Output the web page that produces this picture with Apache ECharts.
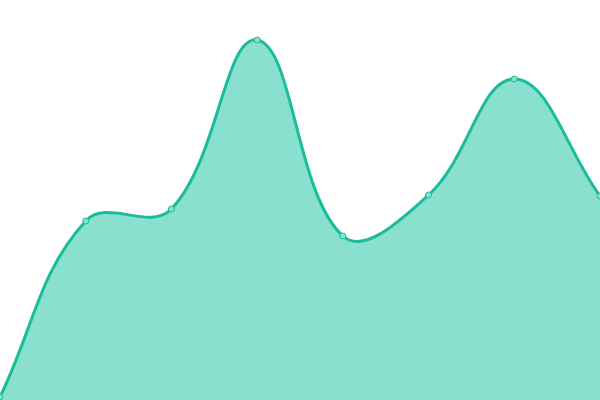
<!DOCTYPE html>
<html><head><meta charset="utf-8">
<script src="https://cdn.jsdelivr.net/npm/echarts@6/dist/echarts.min.js"></script>
<style>html,body{margin:0;padding:0;background:#fff}#c{width:600px;height:400px}</style>
</head><body><div id="c"></div>
<script>
const categories = ['A','B','C','D','E','F','G','H'];
const values = [3, 179, 191, 360, 164, 205, 321, 204];
const yMin = 0, yMax = 400;
const tension = 0.4;
const lineColor = '#1abc9c';
const fillColor = '#8ae0cf';

function controlPoints(pts, t, area) {
  const n = pts.length, out = [];
  const clampPt = p => [Math.max(area.x, Math.min(area.x + area.width, p[0])),
                        Math.max(area.y, Math.min(area.y + area.height, p[1]))];
  for (let i = 0; i < n; i++) {
    const prev = pts[Math.max(0, i - 1)], cur = pts[i], next = pts[Math.min(n - 1, i + 1)];
    const d01 = Math.hypot(cur[0] - prev[0], cur[1] - prev[1]);
    const d12 = Math.hypot(next[0] - cur[0], next[1] - cur[1]);
    let s01 = d01 / (d01 + d12), s12 = d12 / (d01 + d12);
    if (!isFinite(s01)) s01 = 0; if (!isFinite(s12)) s12 = 0;
    const fa = t * s01, fb = t * s12;
    out.push({
      prev: clampPt([cur[0] - fa * (next[0] - prev[0]), cur[1] - fa * (next[1] - prev[1])]),
      next: clampPt([cur[0] + fb * (next[0] - prev[0]), cur[1] + fb * (next[1] - prev[1])])
    });
  }
  return out;
}

const chart = echarts.init(document.getElementById('c'));
chart.setOption({
  animation: false,
  grid: {left: 0, right: 0, top: 0, bottom: 0},
  xAxis: {type: 'category', data: categories, boundaryGap: false, show: false},
  yAxis: {type: 'value', min: yMin, max: yMax, show: false},
  series: [{
    type: 'custom',
    data: categories.map((c, i) => [i, values[i]]),
    encode: {x: 0, y: 1},
    z: 1,
    renderItem: function (params, api) {
      if (params.dataIndex !== 0) return null;
      const pts = values.map((v, i) => api.coord([i, v]));
      const cs = params.coordSys;
      const cps = controlPoints(pts, tension, cs);
      let d = 'M' + pts[0][0] + ' ' + pts[0][1];
      for (let i = 0; i < pts.length - 1; i++) {
        d += ' C' + cps[i].next[0] + ' ' + cps[i].next[1] + ' ' +
             cps[i + 1].prev[0] + ' ' + cps[i + 1].prev[1] + ' ' +
             pts[i + 1][0] + ' ' + pts[i + 1][1];
      }
      const base = api.coord([0, yMin])[1];
      const areaD = d + ' L' + pts[pts.length - 1][0] + ' ' + base + ' L' + pts[0][0] + ' ' + base + ' Z';
      return {
        type: 'group',
        children: [
          {type: 'path', shape: {pathData: areaD}, style: {fill: fillColor, stroke: null}},
          {type: 'path', shape: {pathData: d}, style: {fill: null, stroke: lineColor, lineWidth: 3}}
        ]
      };
    }
  }, {
    type: 'line',
    data: values,
    z: 3,
    symbol: 'circle',
    symbolSize: 6,
    itemStyle: {color: fillColor, borderColor: lineColor, borderWidth: 1},
    lineStyle: {width: 0, opacity: 0}
  }]
});
</script></body></html>
